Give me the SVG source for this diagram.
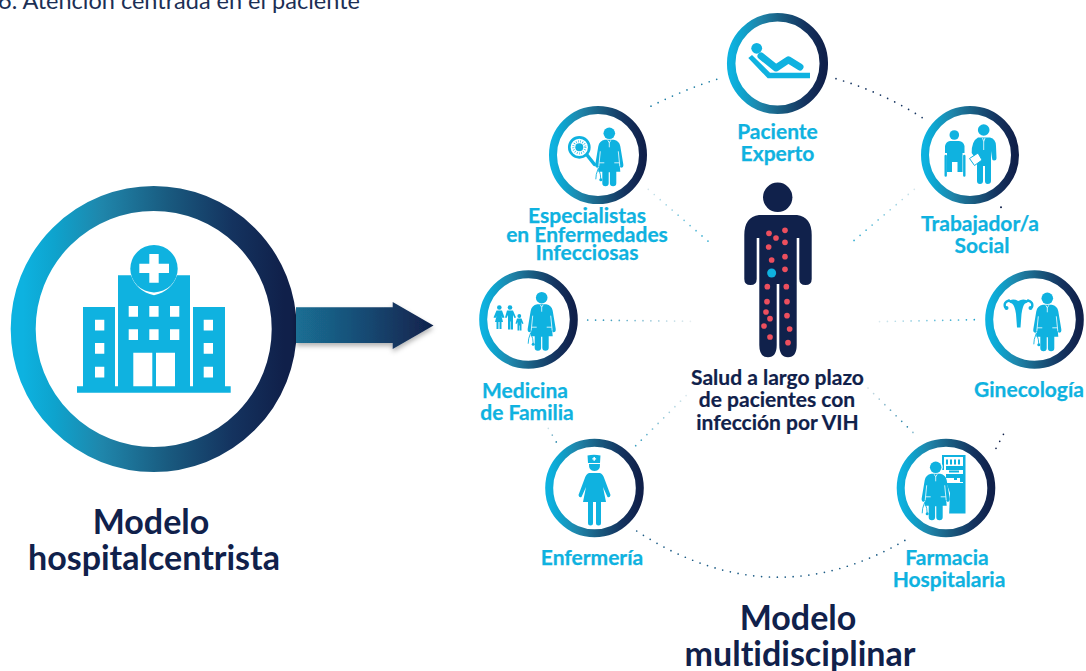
<svg xmlns="http://www.w3.org/2000/svg" xmlns:xlink="http://www.w3.org/1999/xlink" width="1086" height="671" viewBox="0 0 1086 671">
<style>
text{font-family:Lato,"Liberation Sans",sans-serif;text-anchor:middle;font-variant-ligatures:none}
.l{font-size:21px;font-weight:700;fill:#0fb2e0;stroke:#0fb2e0;stroke-width:.25}
.c{font-size:21px;font-weight:700;fill:#10214b;stroke:#10214b;stroke-width:.2}
.m{font-size:34px;font-weight:700;fill:#10214b}
.i{fill:#0fb2e0}
.w{fill:#fff}
.wl{fill:none;stroke:#fff;stroke-width:.8}
.ring{fill:#fff;stroke:url(#rg)}
.d{fill:none;stroke-width:1.7;stroke-linecap:round;stroke-dasharray:0 7.9}
</style>
<defs>
<linearGradient id="rg" x1="0" x2="1" y1="0" y2="0">
<stop offset="0" stop-color="#0db2e0"/><stop offset=".12" stop-color="#0ea3cd"/><stop offset=".3" stop-color="#1f86ab"/><stop offset=".55" stop-color="#195b80"/><stop offset=".8" stop-color="#14335f"/><stop offset="1" stop-color="#10204a"/>
</linearGradient>
<linearGradient id="ag" gradientUnits="userSpaceOnUse" x1="296" x2="434" y1="0" y2="0">
<stop offset="0" stop-color="#1a6f94"/><stop offset=".5" stop-color="#184a73"/><stop offset="1" stop-color="#10214b"/>
</linearGradient>
<linearGradient id="f3" gradientUnits="userSpaceOnUse" x1="648" y1="189" x2="713" y2="246"><stop offset="0" stop-color="#d5e6ec"/><stop offset="1" stop-color="#1ba3cc"/></linearGradient>
<linearGradient id="f4" gradientUnits="userSpaceOnUse" x1="914" y1="189" x2="848" y2="245"><stop offset="0" stop-color="#d5e6ec"/><stop offset="1" stop-color="#1ba3cc"/></linearGradient>
<linearGradient id="f5" gradientUnits="userSpaceOnUse" x1="974" y1="0" x2="872" y2="0"><stop offset="0" stop-color="#1ba3cc"/><stop offset="1" stop-color="#e8eef1"/></linearGradient>
<linearGradient id="f6" gradientUnits="userSpaceOnUse" x1="588" y1="0" x2="692" y2="0"><stop offset="0" stop-color="#1b8db3"/><stop offset="1" stop-color="#e8eef1"/></linearGradient>
<linearGradient id="f7" gradientUnits="userSpaceOnUse" x1="548" y1="428" x2="557" y2="443"><stop offset="0" stop-color="#cfe3ea"/><stop offset="1" stop-color="#1b7fa5"/></linearGradient>
<linearGradient id="f8" gradientUnits="userSpaceOnUse" x1="636" y1="446" x2="690" y2="392"><stop offset="0" stop-color="#3a9fc0"/><stop offset="1" stop-color="#e3ecef"/></linearGradient>
<linearGradient id="f10" gradientUnits="userSpaceOnUse" x1="868" y1="388" x2="917" y2="437"><stop offset="0" stop-color="#d5e2e8"/><stop offset=".8" stop-color="#1f7fa5"/><stop offset="1" stop-color="#cfe3ea"/></linearGradient>
<filter id="sh" x="-20%" y="-30%" width="140%" height="170%"><feDropShadow dx="0" dy="3" stdDeviation="2.5" flood-color="#000" flood-opacity=".3"/></filter>
<g id="doc">
<circle class="i" cx="0" cy="0" r="5.8"/>
<path class="i" d="M-4.500 6.500 L4.500 6.500 Q10 7.500 11 13 L14 31 Q14.500 34.500 11.500 34.500 L10.500 33 L11 38.500 L7 38.500 L7 50 Q7 53 3.800 53 Q.6 53 .6 50 L.6 39 L-.6 39 L-.6 50 Q-.6 53 -3.800 53 Q-7 53 -7 50 L-7 38.500 L-11 38.500 L-10.500 33 L-11.500 34.500 Q-14.500 34.500 -14 31 L-11 13 Q-10 7.500 -4.500 6.500Z"/>
<path class="wl" d="M-1.500 7 L0 9.500 L1.500 7 M0 9.500 V14 M-10 29.500 H-5 M5 29.500 H10 M-9 18 L-10.500 33 M9 18 L10.500 33"/>
<path d="M-11 35 L-13 41 L-13.500 46 M-11 35 L-9 41 L-8.500 46" fill="none" stroke="#0fb2e0" stroke-width=".9"/>
<circle class="i" cx="-8.500" cy="46.500" r="1.500"/>
</g>
</defs>

<text x="179" y="9" style="font-size:23.500px;fill:#1c2f55;font-weight:400">6. Atención centrada en el paciente</text>

<g id="connectors">
<path class="d" stroke="#1f7fa5" d="M716.700 79.300 Q680 91 645 109.300"/>
<path class="d" stroke="#14335f" d="M836 78.700 Q882 92 922.300 117.700"/>
<path class="d" stroke="url(#f3)" d="M648.300 189.300 L713.300 245.700"/>
<path class="d" stroke="url(#f4)" d="M914.300 189.300 L848.300 245.300"/>
<path class="d" stroke="url(#f5)" d="M974.300 319.700 L871.700 321.700"/>
<path class="d" stroke="url(#f6)" d="M587.700 320 L691.700 321.300"/>
<path class="d" stroke="url(#f7)" d="M548.300 428.300 L556.700 442.700"/>
<path class="d" stroke="url(#f8)" d="M635.700 445.700 L690 391.700"/>
<path class="d" stroke="#1b5b85" d="M636.700 531 Q771.700 619 906.700 539.300"/>
<path class="d" stroke="url(#f10)" d="M868 388 L917.300 436.700"/>
<path class="d" stroke="#10204a" d="M996 448.300 L1004.300 432.700"/>
<circle cx="1001" cy="207.300" r="1" fill="#10204a"/>
</g>

<g id="hospital">
<circle class="ring" cx="153.700" cy="329" r="130.500" stroke-width="25"/>
<path class="i" d="M77 386.300H83V307H115V386.300H118V275.300H131Q136 291 154 295.300Q172 291 177 275.300H190V386.300H193V307H225V386.300H230.700V392.700H77Z"/>
<circle class="i" cx="154" cy="268.700" r="23.700"/>
<path class="w" d="M149.300 254H158.700V263.700H169V273H158.700V282.700H149.300V273H139.300V263.700H149.300Z"/>
<path class="w" d="M128.700 306h9.300v10.700h-9.300zM149.300 306h9.300v10.700h-9.300zM170 306h9.300v10.700h-9.300zM128.700 329.300h9.300v10.700h-9.300zM149.300 329.300h9.300v10.700h-9.300zM170 329.300h9.300v10.700h-9.300zM133.300 352.700h19v33.600h-19zM156 352.700h19v33.600h-19zM95 319.700h9.300v10.700h-9.300zM95 343h9.300v10.700h-9.300zM95 366.700h9.300v10.700h-9.300zM203.700 319.700h9.300v10.700h-9.300zM203.700 343h9.300v10.700h-9.300zM203.700 366.700h9.300v10.700h-9.300z"/>
</g>

<path id="arrow" filter="url(#sh)" fill="url(#ag)" d="M296 307.300H392.700V302L433.500 325.500L392.700 349V343H296Z"/>

<g id="paciente-experto">
<circle class="ring" cx="777.500" cy="63.500" r="46.300" stroke-width="8.500"/>
<circle class="i" cx="756.700" cy="48.300" r="5.400"/>
<path class="i" d="M752 55L770 72.700H810V78.300H767.700L748.300 58Z"/>
<path d="M761 56L776 68L788.300 59.800L800 67" fill="none" stroke="#0fb2e0" stroke-width="7" stroke-linecap="round" stroke-linejoin="round"/>
<text class="l" x="777.500" y="138.500">Paciente</text>
<text class="l" x="777.500" y="160.500">Experto</text>
</g>

<g id="especialistas">
<circle class="ring" cx="598" cy="155" r="45" stroke-width="8"/>
<use xlink:href="#doc" href="#doc" x="609.300" y="133.300"/>
<circle cx="579.300" cy="147.300" r="10" fill="#fff" stroke="#0fb2e0" stroke-width="2.700"/>
<circle class="i" cx="579.300" cy="147.300" r="4"/>
<circle cx="579.300" cy="147.300" r="6" fill="none" stroke="#0fb2e0" stroke-width="2.200" stroke-dasharray=".6 1.600"/>
<path d="M587 155L594.500 164.500" stroke="#0fb2e0" stroke-width="3.500" fill="none" stroke-linecap="round"/>
<text class="l" x="587" y="222.500">Especialistas</text>
<text class="l" x="587" y="241.500">en Enfermedades</text>
<text class="l" x="587" y="260">Infecciosas</text>
</g>

<g id="trabajador">
<circle class="ring" cx="970" cy="155" r="45" stroke-width="8"/>
<circle class="i" cx="954.300" cy="135" r="4.800"/>
<path class="i" d="M950 141H959Q963.500 141.500 964.500 146V153H962.500V172H957.500V162H952V172H947V153H945V146Q946 141.500 950 141Z"/>
<path d="M945.700 156V175.500M964.300 156V175.500" stroke="#0fb2e0" stroke-width="2.400" fill="none" stroke-linecap="round"/>
<circle class="i" cx="983.700" cy="130" r="5.800"/>
<path class="i" d="M978 137.500H990Q996 139 996 146L996.500 158Q996.500 160.500 994 160.500Q992 160.500 992 158L991 151V181Q991 184 987.500 184Q985 184 985 181V166H983V181Q983 184 980 184Q977 184 977 181V161L971.700 153Q971.500 141 978 137.500Z"/>
<path class="wl" d="M982.500 138L983.700 141.500L985 138M983.700 141.500V150"/>
<path d="M969.500 158.500L978 153L982 160L974.500 165.500Z" fill="#fff" stroke="#0fb2e0" stroke-width="1"/>
<text class="l" x="980" y="231">Trabajador/a</text>
<text class="l" x="982" y="253">Social</text>
</g>

<g id="ginecologia">
<circle class="ring" cx="1034.500" cy="319.500" r="45.300" stroke-width="8"/>
<use xlink:href="#doc" href="#doc" x="1047.300" y="298.300"/>
<path class="i" d="M1008 301Q1013 298 1018.300 301Q1023 298 1029 301Q1027 303 1025 303.500Q1022.500 306 1021.500 314L1020.500 327.500H1017L1016 314Q1015 306 1012 303.500Q1010 303 1008 301Z"/>
<path d="M1009 300.500Q1003.500 302 1005 307M1028 300.500Q1033.500 302 1032 307" fill="none" stroke="#0fb2e0" stroke-width="2.400" stroke-linecap="round"/>
<circle class="i" cx="1006.500" cy="308" r="2"/><circle class="i" cx="1030.500" cy="308" r="2"/>
<text class="l" x="1029" y="397">Ginecología</text>
</g>

<g id="medicina">
<circle class="ring" cx="528.500" cy="319.500" r="45.300" stroke-width="8"/>
<use xlink:href="#doc" href="#doc" x="541.700" y="297.700"/>
<g class="i">
<circle cx="499.300" cy="307.500" r="2.300"/><path d="M496.500 310.500h5.500l2.500 7-2 .5-1-2 1.500 6h-1.500v7h-2v-7h-1v7h-2v-7h-1.500l1.500-6-1 2-2-.5z"/>
<circle cx="510" cy="307.500" r="2.300"/><path d="M507 310.500h6l3 7-1.500.5-1.500-3v14.500h-2.200v-8h-.5v8h-2.300v-14.500l-1.500 3-1.500-.5z"/>
<circle cx="519.300" cy="316" r="1.900"/><path d="M517 318.500h4.500l2 5-1.200.5-.8-2v8.500h-1.700v-5h-.5v5h-1.800v-8.500l-1 2-1-.5z"/>
</g>
<text class="l" x="525" y="397.500">Medicina</text>
<text class="l" x="527" y="420">de Familia</text>
</g>

<g id="enfermeria">
<circle class="ring" cx="594.500" cy="488" r="45.300" stroke-width="8"/>
<path class="i" d="M587.500 455.500Q594 454 600.500 455.500L600 463H588Z"/>
<path class="w" d="M593.500 457h1.400v1.200h1.200v1.400h-1.200v1.200h-1.400v-1.200h-1.200v-1.400h1.200z"/>
<path class="i" d="M589 464H600Q600.500 471 594.500 471Q588.500 471 589 464Z"/>
<path class="i" d="M589 473H600Q603 474 604.500 479L610.500 495Q610 498 607.500 497L603 487L606 502H601V523Q601 525.500 598.500 525.500Q596 525.500 596 523V502H593V523Q593 525.500 590.500 525.500Q588 525.500 588 523V502H583L586 487L581.500 497Q579 498 578.500 495L584.500 479Q586 474 589 473Z"/>
<text class="l" x="592" y="564.500">Enfermería</text>
</g>

<g id="farmacia">
<circle class="ring" cx="946" cy="488" r="45.300" stroke-width="8"/>
<path class="i" d="M942 455H965.500V513.500H943.500V483H963V478H946V474H963V470H946V466H963V457H944V470H942Z"/>
<path class="i" d="M946 459.500h2v5h-2zM950 459.500h2v5h-2zM954 459.500h2v5h-2zM958 459.500h2v5h-2zM949 470.500h10v2h-10zM954 477h3v3h-3zM960 476h4v6h-4z"/>
<circle cx="935.700" cy="467.300" r="7" class="w"/>
<path class="w" d="M928 473h15l7 20 -1 24h-28l-1-24z"/>
<use xlink:href="#doc" href="#doc" x="935.700" y="467.300"/>
<text class="l" x="947" y="564.500">Farmacia</text>
<text class="l" x="949" y="587">Hospitalaria</text>
</g>

<g id="paciente-central">
<circle cx="777.700" cy="197.300" r="14.700" fill="#10214b"/>
<path fill="#10214b" d="M759 215H797Q811.700 217 811.700 235V279Q811.700 285 805.500 285Q799.300 285 799.300 279V238H796.700V345Q796.700 357.300 788 357.300Q779.300 357.300 779.300 345V284H776.700V345Q776.700 357.300 768 357.300Q759.300 357.300 759.300 345V238H756.700V279Q756.700 285 750.500 285Q744.300 285 744.300 279V235Q744.300 217 759 215Z"/>
<g transform="translate(690 180) scale(.3333)" fill="#ed4f5e">
<circle cx="237" cy="160" r="8.500"/><circle cx="285" cy="151" r="8.500"/><circle cx="258" cy="174" r="8.500"/><circle cx="285" cy="187" r="8.500"/><circle cx="236" cy="201" r="8.500"/><circle cx="285" cy="230" r="8.500"/><circle cx="245" cy="240" r="8.500"/><circle cx="285" cy="268" r="8.500"/><circle cx="232" cy="320" r="8.500"/><circle cx="289" cy="320" r="8.500"/><circle cx="231" cy="365" r="8.500"/><circle cx="291" cy="365" r="8.500"/><circle cx="228" cy="396" r="8.500"/><circle cx="291" cy="407" r="8.500"/><circle cx="240" cy="416" r="8.500"/><circle cx="222" cy="438" r="8.500"/><circle cx="299" cy="447" r="8.500"/><circle cx="240" cy="471" r="8.500"/><circle cx="294" cy="488" r="8.500"/>
<circle cx="245" cy="279" r="13.500" fill="#0fb2e0"/>
</g>
<text class="c" x="777.500" y="385">Salud a largo plazo</text>
<text class="c" x="777" y="407">de pacientes con</text>
<text class="c" x="777.500" y="430">infección por VIH</text>
</g>

<g id="titulos">
<text class="m" x="151" y="534">Modelo</text>
<text class="m" x="154" y="570">hospitalcentrista</text>
<text class="m" x="798" y="630">Modelo</text>
<text class="m" x="800" y="666">multidisciplinar</text>
</g>
</svg>
